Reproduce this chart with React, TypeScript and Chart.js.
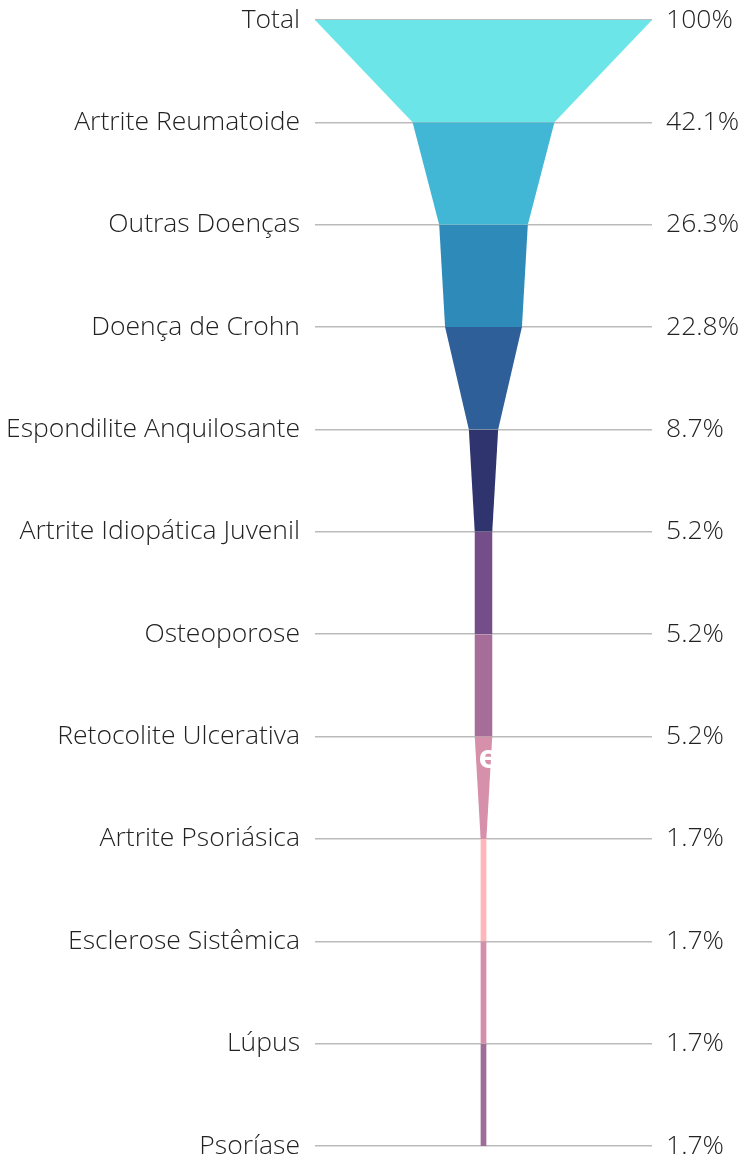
import React, { useEffect, useRef } from 'react';
import { Chart, registerables } from 'chart.js';

Chart.register(...registerables);

const categories = [
  'Total',
  'Artrite Reumatoide',
  'Outras Doenças',
  'Doença de Crohn',
  'Espondilite Anquilosante',
  'Artrite Idiopática Juvenil',
  'Osteoporose',
  'Retocolite Ulcerativa',
  'Artrite Psoriásica',
  'Esclerose Sistêmica',
  'Lúpus',
  'Psoríase',
];

const values = [100, 42.1, 26.3, 22.8, 8.7, 5.2, 5.2, 5.2, 1.7, 1.7, 1.7, 1.7];

const percentLabels = ['100%', '42.1%', '26.3%', '22.8%', '8.7%', '5.2%', '5.2%', '5.2%', '1.7%', '1.7%', '1.7%', '1.7%'];

const segmentColors = [
  '#6ce5e8',
  '#42b7d5',
  '#2e8bb9',
  '#2e5f98',
  '#30346e',
  '#744e88',
  '#a66d98',
  '#d690aa',
  '#ffb5b9',
  '#d48fa9',
  '#9e6e99',
];

const overlayText = 'e';
const overlaySegment = 7;

const overlayPlugin = {
  id: 'overlayText',
  afterDatasetsDraw(chart: any) {
    const { ctx } = chart;
    const x = chart.scales.x;
    const y = chart.scales.y;
    const top = y.getPixelForValue(overlaySegment);
    const bottom = y.getPixelForValue(overlaySegment + 1);
    ctx.save();
    ctx.fillStyle = '#ffffff';
    ctx.font = 'bold 33px "Open Sans"';
    ctx.textAlign = 'left';
    ctx.textBaseline = 'middle';
    ctx.fillText(overlayText, x.getPixelForValue(0) - 5, top + (bottom - top) * 0.22);
    ctx.restore();
  },
};

export default function App() {
  const canvasRef = useRef<HTMLCanvasElement | null>(null);

  useEffect(() => {
    if (!canvasRef.current) return;
    const datasets: any[] = [];
    for (let i = 0; i < segmentColors.length; i++) {
      const a = values[i] / 2;
      const b = values[i + 1] / 2;
      datasets.push({
        label: categories[i] + ' L',
        data: [
          { x: -a, y: categories[i] },
          { x: -b, y: categories[i + 1] },
        ],
        borderWidth: 0,
        pointRadius: 0,
        fill: false,
        borderColor: 'rgba(0,0,0,0)',
      });
      datasets.push({
        label: categories[i] + ' R',
        data: [
          { x: a, y: categories[i] },
          { x: b, y: categories[i + 1] },
        ],
        borderWidth: 0,
        pointRadius: 0,
        fill: '-1',
        borderColor: 'rgba(0,0,0,0)',
        backgroundColor: segmentColors[i],
      });
    }

    const font = { family: '"Open Sans", sans-serif', size: 26.5, weight: '300' as any };

    const fitLeft = (scale: any) => {
      scale.width = 315;
      scale.paddingTop = 0;
      scale.paddingBottom = 0;
    };
    const fitRight = (scale: any) => {
      scale.width = 89;
      scale.paddingTop = 0;
      scale.paddingBottom = 0;
    };

    const chart = new Chart(canvasRef.current, {
      type: 'line',
      data: { labels: categories, datasets },
      options: {
        indexAxis: 'y',
        animation: false,
        responsive: false,
        layout: { padding: { top: 20, bottom: 18, left: 0, right: 0 } },
        plugins: {
          legend: { display: false },
          tooltip: { enabled: false },
        },
        elements: { line: { tension: 0 } },
        scales: {
          x: {
            type: 'linear',
            min: -50,
            max: 50,
            display: false,
          },
          y: {
            type: 'category',
            position: 'left',
            offset: false,
            border: { display: false },
            grid: { color: '#bbbbbb', lineWidth: 1.5, drawTicks: false },
            ticks: { padding: 15, color: '#222222', font, autoSkip: false },
            afterFit: fitLeft,
          },
          y2: {
            type: 'category',
            position: 'right',
            labels: percentLabels,
            offset: false,
            border: { display: false },
            grid: { display: false, drawTicks: false },
            ticks: { padding: 14, color: '#222222', font, autoSkip: false },
            afterFit: fitRight,
          },
        },
      },
      plugins: [overlayPlugin],
    });
    return () => chart.destroy();
  }, []);

  return (
    <div style={{ position: 'absolute', left: 0, top: 0, width: 741, height: 1164 }}>
      <canvas ref={canvasRef} width={741} height={1164} style={{ display: 'block' }} />
    </div>
  );
}
